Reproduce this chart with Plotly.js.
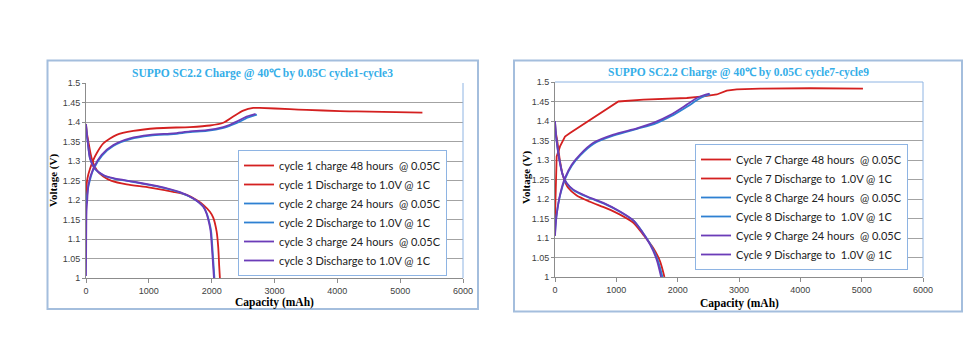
<!DOCTYPE html>
<html>
<head>
<meta charset="utf-8">
<script src="https://cdn.plot.ly/plotly-3.0.1.min.js"></script>
<style>
html,body{margin:0;padding:0;background:#fff;}
#chart{width:976px;height:353px;}
</style>
</head>
<body>
<div id="chart"></div>
<script>
// ---------- Left chart: cycle 1 - cycle 3 ----------
const leftTitle = "SUPPO SC2.2 Charge @ 40℃ by 0.05C cycle1-cycle3";
const leftNames = [
  "cycle 1 charge 48 hours  @ 0.05C",
  "cycle 1 Discharge to 1.0V @ 1C",
  "cycle 2 charge 24 hours  @ 0.05C",
  "cycle 2 Discharge to 1.0V @ 1C",
  "cycle 3 charge 24 hours  @ 0.05C",
  "cycle 3 Discharge to 1.0V @ 1C"
];
const c1ChargeCap = [0, 8, 25, 64, 117, 170, 276, 488, 753, 1124, 1654, 1972, 2184, 2343, 2502, 2661, 2760, 3244, 3510, 4040, 4305, 5354];
const c1ChargeV   = [1.205, 1.235, 1.257, 1.28, 1.303, 1.32, 1.345, 1.367, 1.377, 1.384, 1.387, 1.391, 1.398, 1.414, 1.429, 1.436, 1.436, 1.433, 1.431, 1.428, 1.427, 1.424];
const c1DisCap = [0, 12, 37, 90, 170, 276, 408, 647, 1018, 1389, 1601, 1760, 1870, 1972, 2025, 2078, 2105, 2120, 2131];
const c1DisV   = [1.395, 1.375, 1.35, 1.307, 1.277, 1.26, 1.249, 1.24, 1.232, 1.221, 1.213, 1.2, 1.187, 1.17, 1.155, 1.12, 1.078, 1.03, 1.0];
const c2ChargeCap = [0, 3, 8, 20, 40, 120, 255, 440, 705, 1025, 1395, 1660, 1925, 2190, 2300, 2410, 2570, 2680, 2720];
const c2ChargeV   = [1.19, 1.2, 1.205, 1.215, 1.236, 1.279, 1.314, 1.339, 1.356, 1.365, 1.369, 1.374, 1.377, 1.385, 1.391, 1.398, 1.411, 1.417, 1.419];
const c2DisCap = [0, 10, 28, 66, 146, 280, 440, 760, 1130, 1500, 1712, 1872, 1926, 1968, 1992, 2022, 2044];
const c2DisV   = [1.393, 1.373, 1.348, 1.305, 1.279, 1.263, 1.255, 1.246, 1.235, 1.219, 1.203, 1.182, 1.164, 1.139, 1.119, 1.053, 1.0];
const c3ChargeCap = [0, 3, 8, 20, 37, 117, 249, 435, 700, 1018, 1389, 1654, 1919, 2184, 2290, 2396, 2555, 2661, 2700];
const c3ChargeV   = [1.005, 1.1, 1.17, 1.2, 1.238, 1.281, 1.316, 1.341, 1.358, 1.367, 1.371, 1.376, 1.379, 1.387, 1.393, 1.401, 1.414, 1.419, 1.421];
const c3DisCap = [0, 10, 27, 64, 143, 276, 435, 753, 1124, 1495, 1707, 1866, 1919, 1960, 1983, 2014, 2036];
const c3DisV   = [1.395, 1.375, 1.35, 1.307, 1.28, 1.264, 1.256, 1.247, 1.236, 1.22, 1.204, 1.183, 1.165, 1.14, 1.12, 1.054, 1.0];

// ---------- Right chart: cycle 7 - cycle 9 ----------
const rightTitle = "SUPPO SC2.2 Charge @ 40℃ by 0.05C cycle7-cycle9";
const rightNames = [
  "Cycle 7 Charge 48 hours  @ 0.05C",
  "Cycle 7 Discharge to  1.0V @ 1C",
  "Cycle 8 Charge 24 hours  @ 0.05C",
  "Cycle 8 Discharge to  1.0V @ 1C",
  "Cycle 9 Charge 24 hours  @ 0.05C",
  "Cycle 9 Discharge to  1.0V @ 1C"
];
const c7ChargeCap = [0, 5, 15, 27, 82, 163, 245, 517, 734, 1033, 1441, 2149, 2420, 2638, 2801, 2964, 3345, 4161, 5021];
const c7ChargeV   = [1.15, 1.2, 1.28, 1.309, 1.335, 1.36, 1.369, 1.397, 1.419, 1.45, 1.4546, 1.459, 1.463, 1.468, 1.478, 1.481, 1.483, 1.484, 1.483];
const c7DisCap = [0, 10, 38, 82, 136, 218, 354, 571, 843, 1061, 1278, 1441, 1604, 1713, 1784];
const c7DisV   = [1.40, 1.375, 1.348, 1.297, 1.256, 1.228, 1.209, 1.193, 1.176, 1.16, 1.139, 1.108, 1.074, 1.04, 1.0];
const c8ChargeCap = [0, 10, 28, 84, 166, 276, 412, 632, 960, 1340, 1615, 1890, 2165, 2330, 2440, 2530];
const c8ChargeV   = [1.11, 1.135, 1.162, 1.21, 1.252, 1.286, 1.312, 1.342, 1.363, 1.38, 1.392, 1.412, 1.438, 1.455, 1.464, 1.469];
const c8DisCap = [0, 10, 28, 74, 130, 196, 306, 526, 800, 1072, 1290, 1428, 1566, 1678, 1752];
const c8DisV   = [1.399, 1.374, 1.347, 1.299, 1.26, 1.239, 1.222, 1.205, 1.188, 1.166, 1.143, 1.115, 1.081, 1.042, 1.0];
const c9ChargeCap = [0, 10, 27, 82, 163, 272, 408, 626, 952, 1333, 1605, 1877, 2148, 2312, 2420, 2518];
const c9ChargeV   = [1.105, 1.13, 1.16, 1.211, 1.254, 1.288, 1.314, 1.344, 1.365, 1.381, 1.395, 1.415, 1.442, 1.459, 1.466, 1.47];
const c9DisCap = [0, 10, 27, 71, 125, 190, 299, 517, 789, 1061, 1278, 1414, 1550, 1659, 1730];
const c9DisV   = [1.40, 1.375, 1.348, 1.30, 1.262, 1.241, 1.224, 1.207, 1.19, 1.168, 1.145, 1.117, 1.083, 1.044, 1.0];

const xTicks = [0, 1000, 2000, 3000, 4000, 5000, 6000];
const xTitle = "Capacity (mAh)";
const yTitle = "Voltage (V)";

const RED = "#D42020", BLUE = "#2E80D2", PURPLE = "#6B3CB8";
const seriesColors = [RED, RED, BLUE, BLUE, PURPLE, PURPLE];

const leftData = [[c1ChargeCap, c1ChargeV], [c1DisCap, c1DisV], [c2ChargeCap, c2ChargeV], [c2DisCap, c2DisV], [c3ChargeCap, c3ChargeV], [c3DisCap, c3DisV]];
const rightData = [[c7ChargeCap, c7ChargeV], [c7DisCap, c7DisV], [c8ChargeCap, c8ChargeV], [c8DisCap, c8DisV], [c9ChargeCap, c9ChargeV], [c9DisCap, c9DisV]];

const traces = [];
leftData.forEach((d, i) => traces.push({
  type: "scatter", mode: "lines", x: d[0], y: d[1], name: leftNames[i],
  xaxis: "x", yaxis: "y", legend: "legend", cliponaxis: true,
  line: {color: seriesColors[i], width: 1.8, shape: "spline", smoothing: 0.7}
}));
rightData.forEach((d, i) => traces.push({
  type: "scatter", mode: "lines", x: d[0], y: d[1], name: rightNames[i],
  xaxis: "x2", yaxis: "y2", legend: "legend2", cliponaxis: true,
  line: {color: seriesColors[i], width: 1.8, shape: i === 0 ? "linear" : "spline", smoothing: 0.7}
}));

const W = 976, H = 353;
const px = v => v / W, py = v => 1 - v / H;

const tickFont = {family: "Liberation Sans, Arial, sans-serif", size: 9, color: "#404040"};
function xAxis(domain, anchor) {
  return {domain: domain, anchor: anchor, range: [0, 6000], tickvals: xTicks, ticktext: xTicks.map(String),
    showgrid: false, zeroline: false, showline: true, linecolor: "#8C8C8C", linewidth: 1,
    ticks: "outside", ticklen: 4, tickcolor: "#8C8C8C", tickfont: tickFont, fixedrange: true};
}
function yAxis(domain, anchor) {
  return {domain: domain, anchor: anchor, range: [1, 1.5], dtick: 0.05, tick0: 1,
    showgrid: true, gridcolor: "#A3A3A3", gridwidth: 1, zeroline: false, showline: true,
    linecolor: "#8C8C8C", linewidth: 1, ticks: "outside", ticklen: 3, tickcolor: "#8C8C8C",
    tickfont: tickFont, fixedrange: true};
}

const titleFont = {family: "Liberation Serif, Times New Roman, serif", size: 11.5, color: "#35AEE8", weight: "bold"};
const axTitleFont = {family: "Liberation Serif, Times New Roman, serif", size: 11.5, color: "#000000", weight: "bold"};
const yTitleFont = {family: "Liberation Serif, Times New Roman, serif", size: 11, color: "#000000", weight: "bold"};
const legendFont = {family: "Lato, Calibri, sans-serif", size: 11, color: "#222222"};

const layout = {
  width: W, height: H,
  margin: {l: 0, r: 0, t: 0, b: 0},
  paper_bgcolor: "#ffffff", plot_bgcolor: "#ffffff",
  showlegend: true,
  xaxis: xAxis([px(86), px(463)], "y"),
  yaxis: yAxis([py(278), py(83)], "x"),
  xaxis2: xAxis([px(555), px(923)], "y2"),
  yaxis2: yAxis([py(277), py(82)], "x2"),
  legend: {x: px(238), y: py(213), xanchor: "left", yanchor: "middle",
    bgcolor: "#ffffff", bordercolor: "#8EB4E3", borderwidth: 1, font: legendFont,
    itemwidth: 30, traceorder: "normal"},
  legend2: {x: px(695), y: py(207), xanchor: "left", yanchor: "middle",
    bgcolor: "#ffffff", bordercolor: "#8EB4E3", borderwidth: 1, font: legendFont,
    itemwidth: 30, traceorder: "normal"},
  annotations: [
    {text: leftTitle, xref: "paper", yref: "paper", x: px(262.5), y: py(73), xanchor: "center", yanchor: "middle", showarrow: false, font: titleFont},
    {text: rightTitle, xref: "paper", yref: "paper", x: px(738), y: py(72.5), xanchor: "center", yanchor: "middle", showarrow: false, font: titleFont},
    {text: yTitle, xref: "paper", yref: "paper", x: px(53.5), y: py(180.5), xanchor: "center", yanchor: "middle", textangle: -90, showarrow: false, font: yTitleFont},
    {text: yTitle, xref: "paper", yref: "paper", x: px(526), y: py(178), xanchor: "center", yanchor: "middle", textangle: -90, showarrow: false, font: yTitleFont},
    {text: xTitle, xref: "paper", yref: "paper", x: px(274.5), y: py(302), xanchor: "center", yanchor: "middle", showarrow: false, font: axTitleFont},
    {text: xTitle, xref: "paper", yref: "paper", x: px(739), y: py(303), xanchor: "center", yanchor: "middle", showarrow: false, font: axTitleFont}
  ],
  shapes: [
    // chart frames
    {type: "rect", xref: "paper", yref: "paper", x0: px(47.5), x1: px(478), y0: py(309), y1: py(60.5), line: {color: "#A4BEDD", width: 2}, layer: "below"},
    {type: "rect", xref: "paper", yref: "paper", x0: px(514), x1: px(962), y0: py(311.5), y1: py(60.5), line: {color: "#A4BEDD", width: 2}, layer: "below"},
    // plot area borders (light blue)
    {type: "line", xref: "x domain", yref: "y domain", x0: 1, x1: 1, y0: 0, y1: 1, line: {color: "#8EB4E3", width: 1}},
    {type: "line", xref: "x2 domain", yref: "y2 domain", x0: 1, x1: 1, y0: 0, y1: 1, line: {color: "#8EB4E3", width: 1}},
    {type: "line", xref: "x2 domain", yref: "y2 domain", x0: 0, x1: 1, y0: 1, y1: 1, line: {color: "#8EB4E3", width: 1}}
  ]
};

Plotly.newPlot("chart", traces, layout, {staticPlot: true, displayModeBar: false});
</script>
</body>
</html>
